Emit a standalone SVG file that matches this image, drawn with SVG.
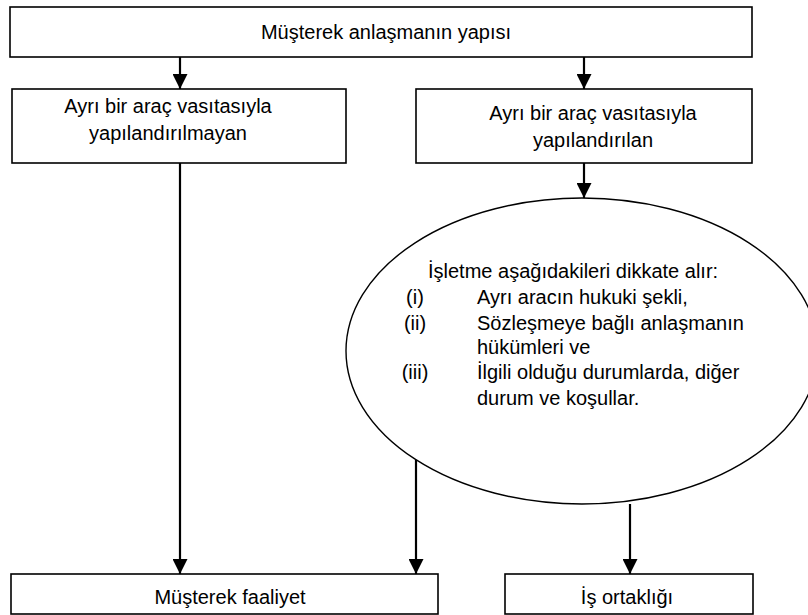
<svg xmlns="http://www.w3.org/2000/svg" width="808" height="615" viewBox="0 0 808 615">
<style>
.box{fill:#fff;stroke:#000;stroke-width:1.6}
.ell{fill:#fff;stroke:#000;stroke-width:1.4}
.t{font-family:"Liberation Sans",Arial,sans-serif;font-size:20px;fill:#000}
.m{text-anchor:middle}
.c{stroke:#000;stroke-width:2.2;fill:none;marker-end:url(#ah)}
</style>
<defs>
<marker id="ah" markerUnits="userSpaceOnUse" markerWidth="15" markerHeight="15" refX="15" refY="7.5" orient="auto">
<path d="M0,0 L15,7.5 L0,15 Z" fill="#000"/>
</marker>
</defs>
<g id="n-top">
<rect class="box" x="10" y="7" width="742" height="50"/>
<text class="t m" x="386" y="39">Müşterek anlaşmanın yapısı</text>
</g>
<g id="n-left">
<rect class="box" x="12" y="89" width="334" height="74"/>
<text class="t m" x="168" y="113">Ayrı bir araç vasıtasıyla</text>
<text class="t m" x="168" y="140">yapılandırılmayan</text>
</g>
<g id="n-right">
<rect class="box" x="416" y="89" width="336" height="74"/>
<text class="t m" x="593" y="120">Ayrı bir araç vasıtasıyla</text>
<text class="t m" x="593" y="147">yapılandırılan</text>
</g>
<g id="n-ellipse">
<ellipse class="ell" cx="582" cy="351" rx="236" ry="153"/>
<text class="t" x="428" y="278">İşletme aşağıdakileri dikkate alır:</text>
<text class="t m" x="415" y="304">(i)</text>
<text class="t" x="477" y="304">Ayrı aracın hukuki şekli,</text>
<text class="t m" x="415" y="330">(ii)</text>
<text class="t" x="477" y="330">Sözleşmeye bağlı anlaşmanın</text>
<text class="t" x="477" y="354">hükümleri ve</text>
<text class="t m" x="415" y="379">(iii)</text>
<text class="t" x="477" y="379">İlgili olduğu durumlarda, diğer</text>
<text class="t" x="477" y="405">durum ve koşullar.</text>
</g>
<g id="n-joint-operation">
<rect class="box" x="11" y="574" width="427" height="40"/>
<text class="t m" x="230" y="604">Müşterek faaliyet</text>
</g>
<g id="n-joint-venture">
<rect class="box" x="505" y="574" width="248" height="40"/>
<text class="t m" x="627" y="604">İş ortaklığı</text>
</g>
<g id="connectors">
<line class="c" x1="180" y1="57" x2="180" y2="89"/>
<line class="c" x1="584" y1="57" x2="584" y2="89"/>
<line class="c" x1="584" y1="163" x2="584" y2="198"/>
<line class="c" x1="180" y1="163" x2="180" y2="574"/>
<line class="c" x1="416" y1="460" x2="416" y2="574"/>
<line class="c" x1="630" y1="504" x2="630" y2="574"/>
</g>
</svg>
